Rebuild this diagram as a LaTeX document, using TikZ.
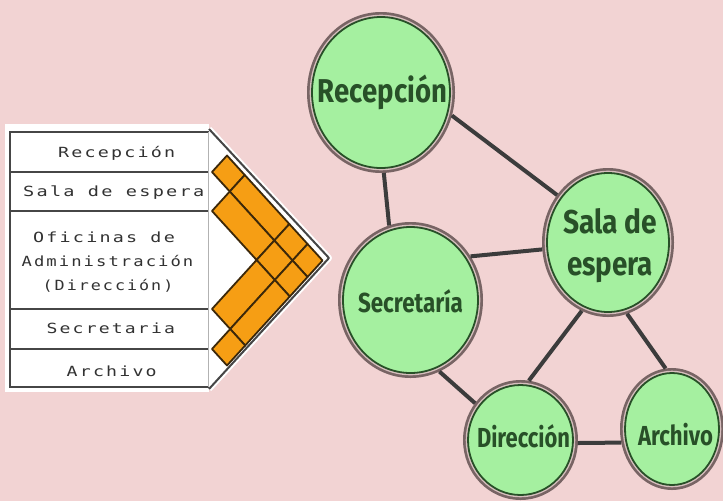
\documentclass[tikz,border=0pt]{standalone}
\usepackage{fontspec}
\usetikzlibrary{shapes.geometric}
\newfontfamily\labfont{Fira Sans}
\newfontfamily\tabfont[LetterSpace=12]{DejaVu Sans Mono}
\definecolor{bgpink}{RGB}{242,211,211}
\definecolor{nodegreen}{RGB}{165,240,160}
\definecolor{ringgray}{RGB}{120,100,100}
\definecolor{ringgap}{RGB}{215,190,190}
\definecolor{darkgreen}{RGB}{40,80,40}
\definecolor{edgegray}{RGB}{60,60,60}
\definecolor{cellorange}{RGB}{246,158,20}
\definecolor{celledge}{RGB}{60,40,10}
\definecolor{tabline}{RGB}{70,70,70}
\definecolor{tabtext}{RGB}{50,50,50}
\tikzset{
  room/.style={ellipse, inner sep=0pt, outer sep=5pt, fill=nodegreen, draw=darkgreen, line width=1.8pt,
    preaction={draw=ringgray, line width=10pt}, preaction={draw=ringgap, line width=4.6pt}},
  biglab/.style={anchor=base, text=darkgreen, inner sep=0pt, font=\labfont\bfseries\fontsize{33}{36}\selectfont},
  smalllab/.style={anchor=base, text=darkgreen, inner sep=0pt, font=\labfont\bfseries\fontsize{27.5}{30}\selectfont},
  link/.style={draw=edgegray, line width=4pt},
  tabtxt/.style={anchor=base, text=tabtext, inner sep=0pt, font=\tabfont\fontsize{14}{16}\selectfont},
  cellbox/.style={fill=cellorange, draw=celledge, line width=1.8pt, line join=round},
  tabrule/.style={draw=tabline, line width=2pt}
}
\begin{document}
\begin{tikzpicture}[x=1pt,y=-1pt]
\fill[bgpink] (0,0) rectangle (723,501);
\useasboundingbox (0,0) rectangle (723,501);

% ---------- matrix / table ----------
\fill[white] (5,124) rectangle (209,392);
\coordinate (tTop) at (209,129);
\coordinate (apex) at (329,258);
\coordinate (tBot) at (209,389);
\draw[white, line width=6pt, line join=round] (tTop) -- (apex) -- (tBot);
\fill[white] (tTop) -- (apex) -- (tBot) -- cycle;
\foreach \ai/\bi/\aj/\bj in {139/172/172/211, 139/172/211/309, 139/172/309/349, 139/172/349/382,
  172/211/211/309, 172/211/309/349, 172/211/349/382, 211/309/309/349, 211/309/349/382, 309/349/349/382}{
  \pgfmathsetmacro\lx{212+0.455*(\aj-\bi)}\pgfmathsetmacro\ly{(\bi+\aj)/2}
  \pgfmathsetmacro\tx{212+0.455*(\aj-\ai)}\pgfmathsetmacro\ty{(\ai+\aj)/2}
  \pgfmathsetmacro\rx{212+0.455*(\bj-\ai)}\pgfmathsetmacro\ry{(\ai+\bj)/2}
  \pgfmathsetmacro\bx{212+0.455*(\bj-\bi)}\pgfmathsetmacro\by{(\bi+\bj)/2}
  \filldraw[cellbox] (\lx,\ly) -- (\tx,\ty) -- (\rx,\ry) -- (\bx,\by) -- cycle;
}
\draw[tabline, line width=2pt, line join=round] (tTop) -- (apex) -- (tBot);
\draw[tabrule] (209,132) -- (10,132) -- (10,387) -- (209,387);
\foreach \yy in {172,211,309,349}{\draw[tabrule] (10,\yy) -- (209,\yy);}
\draw[gray!60, line width=0.8pt] (208,132) -- (208,387);

\node[tabtxt] (t1) at (116.7,157) {\resizebox{117pt}{\height}{Recepción}};
\node[tabtxt] (t2) at (113.7,196.7) {\resizebox{181pt}{\height}{Sala de espera}};
\node[tabtxt] (t3a) at (104,242.7) {\resizebox{141.7pt}{\height}{Oficinas de}};
\node[tabtxt] (t3b) at (107.5,266.7) {\resizebox{171.7pt}{\height}{Administración}};
\node[tabtxt] (t3c) at (108,290) {\resizebox{130.7pt}{\height}{(Dirección)}};
\node[tabtxt] (t4) at (110.8,333.3) {\resizebox{128.3pt}{\height}{Secretaria}};
\node[tabtxt] (t5) at (111.7,376.7) {\resizebox{90pt}{\height}{Archivo}};

% ---------- graph ----------
\node[room, minimum width=138pt, minimum height=151pt] (rec) at (381,92.5) {};
\node[room, minimum width=122pt, minimum height=139pt] (sala) at (608,242.5) {};
\node[room, minimum width=135pt, minimum height=146pt] (sec) at (410.5,300) {};
\node[room, minimum width=105pt, minimum height=110pt] (dir) at (520.5,440) {};
\node[room, minimum width=94pt, minimum height=112pt] (arc) at (672,429) {};

\draw[link] (rec.-18.3) -- (sala.137);
\draw[link] (rec.-88.6) -- (sec.106);
\draw[link] (sec.36.5) -- (sala.186.6);
\draw[link] (sec.-68) -- (dir.141);
\draw[link] (sala.-111.7) -- (dir.82.9);
\draw[link] (sala.-75.3) -- (arc.96.8);
\draw[link] (dir.-3) -- (arc.195);

\node[biglab] (recT) at (382.5,102) {\resizebox{129pt}{\height}{Recepción}};
\node[biglab] (salaT1) at (610,233) {\resizebox{94pt}{\height}{Sala de}};
\node[biglab] (salaT2) at (610,275) {\resizebox{86pt}{\height}{espera}};
\node[smalllab] (secT) at (410.5,312) {\resizebox{105pt}{\height}{Secretaría}};
\node[smalllab] (dirT) at (523.5,447) {\resizebox{93pt}{\height}{Dirección}};
\node[smalllab] (arcT) at (675.5,445) {\resizebox{75pt}{\height}{Archivo}};
\end{tikzpicture}
\end{document}
